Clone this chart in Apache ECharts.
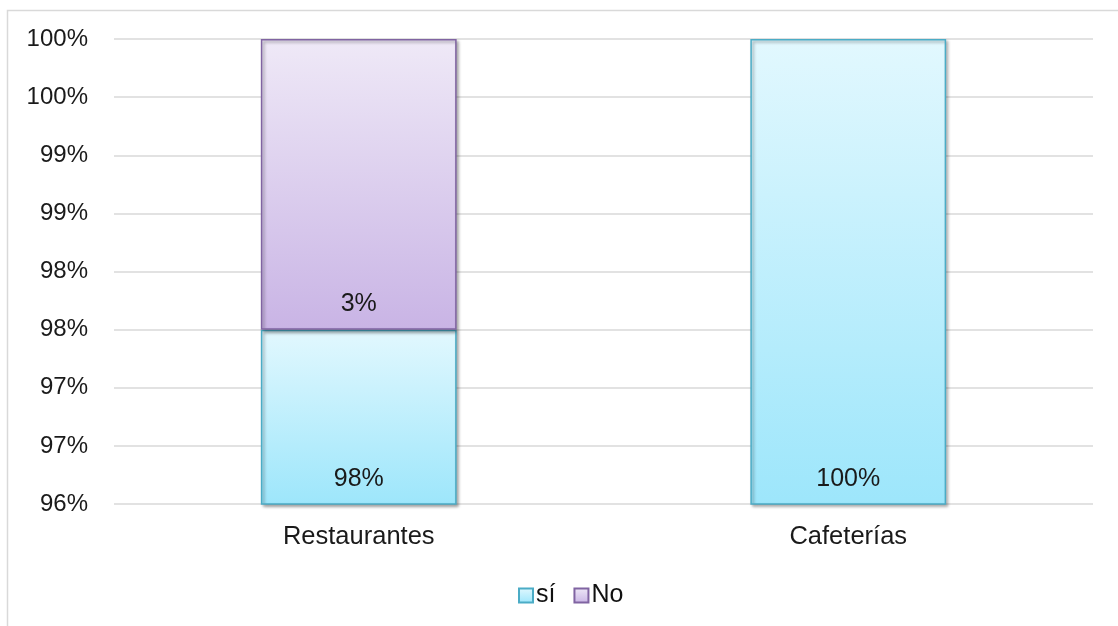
<!DOCTYPE html>
<html>
<head>
<meta charset="utf-8">
<script src="https://cdn.jsdelivr.net/npm/echarts@6/dist/echarts.min.js"></script>
<style>
  html, body { margin: 0; padding: 0; background: #fff; }
  #chart { width: 1118px; height: 626px; }
</style>
</head>
<body>
<div id="chart"></div>
<script>
// Categories and stacked shares (percent)
const categories = ['Restaurantes', 'Cafeterías'];
const siValues = [97.5, 100];
const noValues = [2.5, 0];
const seriesNames = ['sí', 'No'];

// Value axis range (percent)
const axisMin = 96;
const axisMax = 100;
const axisStep = 0.5;

const FONT = '"Liberation Sans", Arial, sans-serif';
const TEXT = '#1a1a1a';

function grad(top, bottom) {
  return new echarts.graphic.LinearGradient(0, 0, 0, 1, [
    { offset: 0, color: top },
    { offset: 1, color: bottom }
  ]);
}

const pct = v => Math.round(v) + '%';

const chart = echarts.init(document.getElementById('chart'), null, { renderer: 'canvas' });

const labelStyle = {
  show: true,
  position: 'insideBottom',
  distance: 13,
  fontFamily: FONT,
  fontSize: 25,
  color: TEXT,
  formatter: p => pct(p.value)
};

chart.setOption({
  animation: false,
  backgroundColor: '#fff',
  graphic: [{
    type: 'rect',
    shape: { x: 7.5, y: 10.5, width: 1200, height: 700 },
    style: { fill: 'none', stroke: '#d9d9d9', lineWidth: 1.5 },
    silent: true,
    z: -1
  }],
  grid: { left: 114, right: 25, top: 39, bottom: 122, containLabel: false },
  legend: {
    data: seriesNames,
    icon: 'rect',
    left: 513,
    top: 578,
    itemWidth: 14,
    itemHeight: 14,
    itemGap: 18,
    textStyle: { fontFamily: FONT, fontSize: 25, color: '#111', padding: [0, 0, 0, -2] }
  },
  xAxis: {
    type: 'category',
    data: categories,
    axisLine: { show: false },
    axisTick: { show: false },
    axisLabel: { fontFamily: FONT, fontSize: 25.5, color: TEXT, margin: 20 }
  },
  yAxis: {
    type: 'value',
    min: axisMin,
    max: axisMax,
    interval: axisStep,
    axisLine: { show: false },
    axisTick: { show: false },
    splitLine: { lineStyle: { color: '#d9d9d9', width: 1.5 } },
    axisLabel: {
      fontFamily: FONT, fontSize: 24, color: TEXT, margin: 26,
      formatter: v => pct(v)
    }
  },
  series: [
    {
      name: seriesNames[0],
      type: 'bar',
      stack: 'total',
      barWidth: '40%',
      data: siValues,
      itemStyle: {
        color: grad('#e2f8fe', '#9de6fb'),
        borderColor: '#4bacc6',
        borderWidth: 1.5,
        shadowColor: 'rgba(0,0,0,0.35)',
        shadowBlur: 3,
        shadowOffsetX: 2,
        shadowOffsetY: 2
      },
      label: labelStyle
    },
    {
      name: seriesNames[1],
      type: 'bar',
      stack: 'total',
      barWidth: '40%',
      data: noValues.map(v => (v > 0 ? v : null)),
      itemStyle: {
        color: grad('#efe9f7', '#c9b4e5'),
        borderColor: '#8064a2',
        borderWidth: 1.5,
        shadowColor: 'rgba(0,0,0,0.35)',
        shadowBlur: 3,
        shadowOffsetX: 2,
        shadowOffsetY: 2
      },
      label: labelStyle
    }
  ]
});
</script>
</body>
</html>
